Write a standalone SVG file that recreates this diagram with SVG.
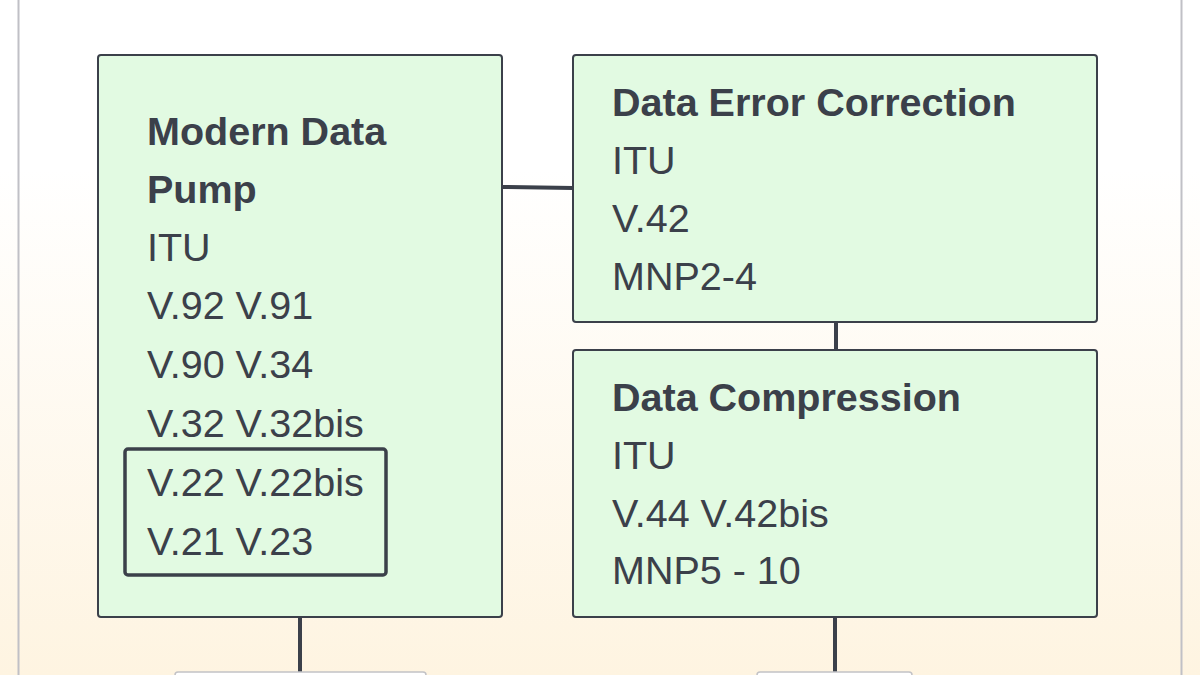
<svg xmlns="http://www.w3.org/2000/svg" width="1200" height="675" viewBox="0 0 1200 675">
<defs>
<linearGradient id="bg" x1="0" y1="0" x2="0" y2="1">
<stop offset="0" stop-color="#ffffff"/>
<stop offset="0.25" stop-color="#ffffff"/>
<stop offset="1" stop-color="#fef4e1"/>
</linearGradient>
<style>
.node{fill:#e2fae2;stroke:#3b404a;stroke-width:2}
.t{font-family:"Liberation Sans",Arial,sans-serif;font-size:39.5px;fill:#3b404a}
.b{font-weight:bold}
.c{stroke:#3b404a;stroke-width:4;fill:none}
.stub{fill:#ffffff;stroke:#c2c2c6;stroke-width:1.5}
</style>
</defs>
<rect x="0" y="0" width="1200" height="675" fill="url(#bg)"/>
<line x1="18.5" y1="0" x2="18.5" y2="675" stroke="#c0c0c6" stroke-width="2"/>
<line x1="1181.5" y1="0" x2="1181.5" y2="675" stroke="#c0c0c6" stroke-width="2"/>
<g id="connectors">
<path class="c" d="M502 187 L573 188"/>
<path class="c" d="M836 322 L836 350"/>
<path class="c" d="M300 617 L300 675"/>
<path class="c" d="M835 617 L835 675"/>
</g>
<g id="stub-left"><rect class="stub" x="175" y="672" width="251" height="20" rx="3"/></g>
<g id="stub-right"><rect class="stub" x="757" y="672" width="155" height="20" rx="3"/></g>
<g id="modern-data-pump">
<rect class="node" x="98" y="55" width="404" height="562" rx="3"/>
<text class="t b" x="147" y="145">Modern Data</text>
<text class="t b" x="147" y="203">Pump</text>
<text class="t" x="147" y="261">ITU</text>
<text class="t" x="147" y="319">V.92 V.91</text>
<text class="t" x="147" y="378">V.90 V.34</text>
<text class="t" x="147" y="437">V.32 V.32bis</text>
<rect x="125" y="449" width="261" height="126" rx="3" fill="none" stroke="#3b404a" stroke-width="3.5"/>
<text class="t" x="147" y="496">V.22 V.22bis</text>
<text class="t" x="147" y="555">V.21 V.23</text>
</g>
<g id="data-error-correction">
<rect class="node" x="573" y="55" width="524" height="267" rx="3"/>
<text class="t b" x="612" y="116">Data Error Correction</text>
<text class="t" x="612" y="174">ITU</text>
<text class="t" x="612" y="232">V.42</text>
<text class="t" x="612" y="290">MNP2-4</text>
</g>
<g id="data-compression">
<rect class="node" x="573" y="350" width="524" height="267" rx="3"/>
<text class="t b" x="612" y="411">Data Compression</text>
<text class="t" x="612" y="469">ITU</text>
<text class="t" x="612" y="527">V.44 V.42bis</text>
<text class="t" x="612" y="584">MNP5 - 10</text>
</g>
</svg>
